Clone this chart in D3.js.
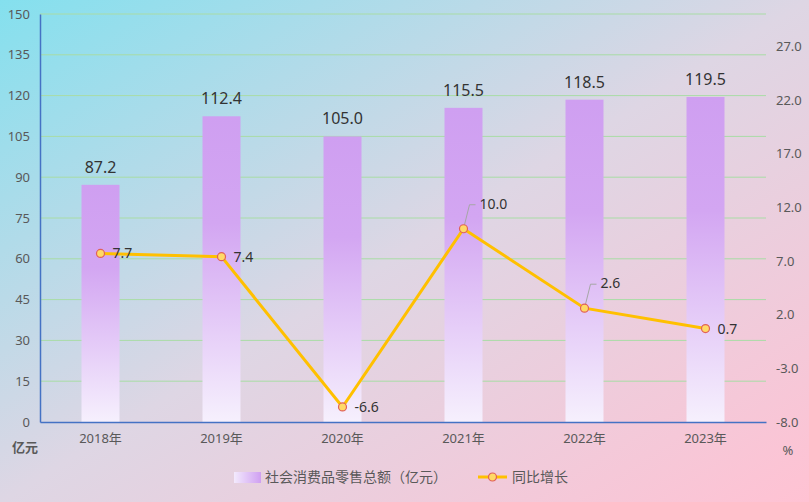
<!DOCTYPE html>
<html>
<head>
<meta charset="utf-8">
<script src="https://cdn.jsdelivr.net/npm/d3@7"></script>
<style>
  html, body { margin: 0; padding: 0; }
  body { width: 809px; height: 502px; overflow: hidden; }
  text { font-family: "Noto Sans", "Noto Sans CJK SC", sans-serif; }
</style>
</head>
<body>
<div id="chart"></div>
<script>
// 数据
const years = ['2018年', '2019年', '2020年', '2021年', '2022年', '2023年'];
const sales = [87.2, 112.4, 105.0, 115.5, 118.5, 119.5];
const growth = [7.7, 7.4, -6.6, 10.0, 2.6, 0.7];
const leftTicks = [0, 15, 30, 45, 60, 75, 90, 105, 120, 135, 150];
const rightTicks = [-8, -3, 2, 7, 12, 17, 22, 27];

const width = 809;
const height = 502;
const margin = { left: 40, right: 43, top: 14, bottom: 80 };

const svg = d3.select('#chart').append('svg')
  .attr('width', width)
  .attr('height', height);

const defs = svg.append('defs');

// 背景渐变
const bg = defs.append('linearGradient').attr('id', 'bg')
  .attr('x1', 0).attr('y1', 0).attr('x2', 1).attr('y2', 1);
bg.append('stop').attr('offset', 0).attr('stop-color', '#84e0ee');
bg.append('stop').attr('offset', 0.5).attr('stop-color', '#ded6e4');
bg.append('stop').attr('offset', 1).attr('stop-color', '#ffc2d3');

// 柱子渐变
const barGrad = defs.append('linearGradient').attr('id', 'barGrad')
  .attr('x1', 0).attr('y1', 0).attr('x2', 0).attr('y2', 1);
barGrad.append('stop').attr('offset', 0).attr('stop-color', '#cf9ff1');
barGrad.append('stop').attr('offset', 0.35).attr('stop-color', '#d3a6f2');
barGrad.append('stop').attr('offset', 1).attr('stop-color', '#f6f0fd');

const legGrad = defs.append('linearGradient').attr('id', 'legGrad')
  .attr('x1', 0).attr('y1', 0).attr('x2', 1).attr('y2', 0);
legGrad.append('stop').attr('offset', 0).attr('stop-color', '#f3eafd');
legGrad.append('stop').attr('offset', 1).attr('stop-color', '#cf9ff1');

svg.append('rect')
  .attr('width', width).attr('height', height)
  .attr('fill', 'url(#bg)');

const x = d3.scaleBand()
  .domain(years)
  .range([margin.left, width - margin.right])
  .paddingInner(0.686)
  .paddingOuter(0.343);

const y = d3.scaleLinear().domain([0, 150]).range([height - margin.bottom, margin.top]);
const y2 = d3.scaleLinear().domain([-8, 30]).range([height - margin.bottom, margin.top]);

// 网格线
svg.append('g')
  .selectAll('line')
  .data(leftTicks.slice(1))
  .enter()
  .append('line')
  .attr('x1', margin.left)
  .attr('x2', width - margin.right)
  .attr('y1', d => y(d))
  .attr('y2', d => y(d))
  .style('stroke', '#a9dca6')
  .style('stroke-width', 1);

// 柱子
svg.append('g')
  .selectAll('rect')
  .data(sales)
  .enter()
  .append('rect')
  .attr('x', (d, i) => x(years[i]))
  .attr('y', d => y(d))
  .attr('width', x.bandwidth())
  .attr('height', d => y(0) - y(d))
  .style('fill', 'url(#barGrad)');

// 柱子数值
svg.append('g')
  .selectAll('text')
  .data(sales)
  .enter()
  .append('text')
  .attr('x', (d, i) => x(years[i]) + x.bandwidth() / 2)
  .attr('y', d => y(d) - 12)
  .attr('text-anchor', 'middle')
  .style('font-size', '16px')
  .style('fill', '#333')
  .text(d => d.toFixed(1));

// 坐标轴
const leftAxis = svg.append('g')
  .attr('transform', `translate(${margin.left},0)`)
  .call(d3.axisLeft(y).tickValues(leftTicks).tickSize(0).tickPadding(10));
leftAxis.select('.domain').style('stroke', '#4472c4').style('stroke-width', 1.5);
leftAxis.selectAll('text').style('font-size', '13px').style('fill', '#595959');

const rightAxis = svg.append('g')
  .attr('transform', `translate(${width - margin.right},0)`)
  .call(d3.axisRight(y2).tickValues(rightTicks).tickSize(0).tickPadding(10).tickFormat(d => d.toFixed(1)));
rightAxis.select('.domain').remove();
rightAxis.selectAll('text').style('font-size', '13px').style('fill', '#595959');

const bottomAxis = svg.append('g')
  .attr('transform', `translate(0,${height - margin.bottom})`)
  .call(d3.axisBottom(x).tickSize(0).tickPadding(12));
bottomAxis.select('.domain').style('stroke', '#4472c4').style('stroke-width', 1.5);
bottomAxis.selectAll('text').style('font-size', '13px').style('fill', '#595959');

svg.append('text')
  .attr('x', 25).attr('y', 452)
  .attr('text-anchor', 'middle')
  .style('font-size', '13px').style('font-weight', 'bold').style('fill', '#595959')
  .text('亿元');
svg.append('text')
  .attr('x', 788).attr('y', 455)
  .attr('text-anchor', 'middle')
  .style('font-size', '13px').style('fill', '#595959')
  .text('%');

// 折线
const cx = (d, i) => x(years[i]) + x.bandwidth() / 2;
const line = d3.line().x(cx).y(d => y2(d));

svg.append('path')
  .datum(growth)
  .attr('d', line)
  .style('fill', 'none')
  .style('stroke', '#ffc000')
  .style('stroke-width', 3);

// 引导线 (10.0, 2.6)
const leaders = [3, 4];
svg.append('g')
  .selectAll('polyline')
  .data(leaders)
  .enter()
  .append('polyline')
  .attr('points', i => {
    const px = cx(growth[i], i), py = y2(growth[i]);
    return `${px},${py} ${px + 6},${py - 24} ${px + 12},${py - 24}`;
  })
  .style('fill', 'none')
  .style('stroke', '#a6a6a6')
  .style('stroke-width', 1);

svg.append('g')
  .selectAll('circle')
  .data(growth)
  .enter()
  .append('circle')
  .attr('cx', cx)
  .attr('cy', d => y2(d))
  .attr('r', 4)
  .style('fill', '#ffd966')
  .style('stroke', '#e0605a')
  .style('stroke-width', 1.2);

svg.append('g')
  .selectAll('text')
  .data(growth)
  .enter()
  .append('text')
  .attr('x', (d, i) => cx(d, i) + (leaders.includes(i) ? 16 : 12))
  .attr('y', (d, i) => y2(d) + (leaders.includes(i) ? -20 : 5))
  .style('font-size', '14px')
  .style('fill', '#333')
  .text(d => d.toFixed(1));

// 图例
const legend = svg.append('g').attr('transform', 'translate(0,477)');
legend.append('rect')
  .attr('x', 234).attr('y', -5).attr('width', 27).attr('height', 11)
  .style('fill', 'url(#legGrad)');
legend.append('text')
  .attr('x', 265).attr('y', 5)
  .style('font-size', '14px').style('fill', '#595959')
  .text('社会消费品零售总额（亿元）');
legend.append('line')
  .attr('x1', 478).attr('x2', 507).attr('y1', 0).attr('y2', 0)
  .style('stroke', '#ffc000').style('stroke-width', 3);
legend.append('circle')
  .attr('cx', 492.5).attr('cy', 0).attr('r', 4)
  .style('fill', '#ffd966').style('stroke', '#e0605a').style('stroke-width', 1.2);
legend.append('text')
  .attr('x', 512).attr('y', 5)
  .style('font-size', '14px').style('fill', '#595959')
  .text('同比增长');
</script>
</body>
</html>
